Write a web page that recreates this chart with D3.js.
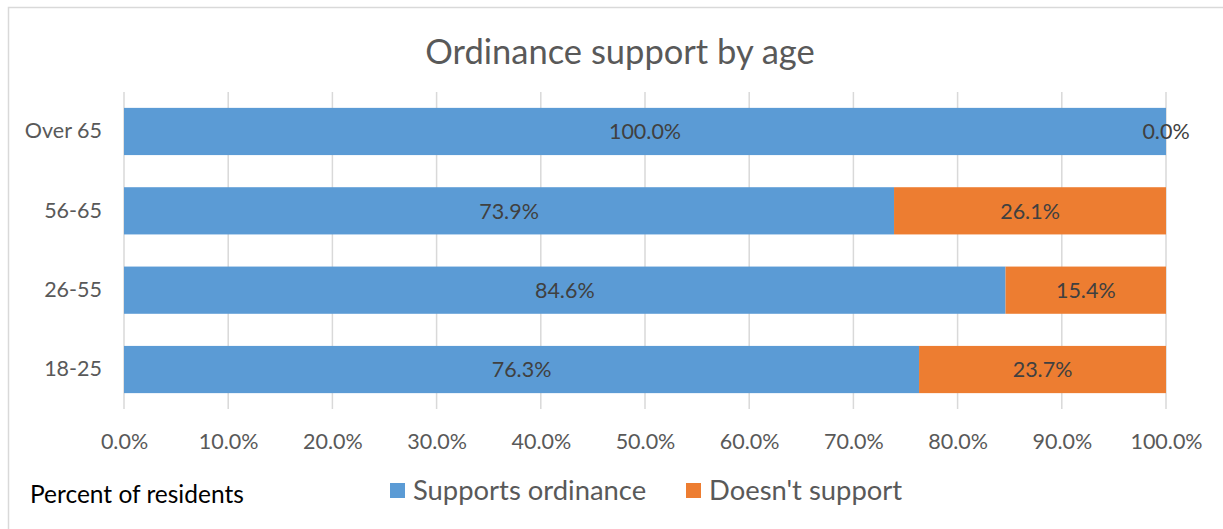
<!DOCTYPE html>
<html>
<head>
<meta charset="utf-8">
<script src="https://cdn.jsdelivr.net/npm/d3@7"></script>
<style>
  html, body { margin: 0; padding: 0; background: #fff; }
  svg { display: block; font-family: Lato, "Open Sans", sans-serif; }
</style>
</head>
<body>
<svg id="chart" width="1223" height="529"></svg>
<script>
// Age groups, top to bottom
const categories = ["Over 65", "56-65", "26-55", "18-25"];
// Share of residents per group (%)
const supports = [100.0, 73.9, 84.6, 76.3];
const doesntSupport = [0.0, 26.1, 15.4, 23.7];
const seriesNames = ["Supports ordinance", "Doesn't support"];
const seriesColors = ["#5b9bd5", "#ed7d31"];
const tickValues = [0, 10, 20, 30, 40, 50, 60, 70, 80, 90, 100];

const svg = d3.select("#chart");
const W = 1223, H = 529;
const margin = { left: 124, right: W - 1166, top: 92, bottom: H - 409 };

// chart frame
svg.append("rect")
  .attr("x", 8.5).attr("y", 7.5)
  .attr("width", W).attr("height", H)
  .attr("fill", "none").attr("stroke", "#d9d9d9").attr("stroke-width", 1.5);

svg.append("text")
  .attr("x", 620).attr("y", 64)
  .attr("text-anchor", "middle")
  .attr("font-size", 34.5).attr("fill", "#595959")
  .text("Ordinance support by age");

const x = d3.scaleLinear().domain([0, 100]).range([margin.left, W - margin.right]);
const y = d3.scaleBand().domain(categories)
  .range([margin.top, H - margin.bottom])
  .paddingInner(0.405).paddingOuter(0.2);

// vertical gridlines
svg.append("g").selectAll("line").data(tickValues).join("line")
  .attr("x1", d => x(d)).attr("x2", d => x(d))
  .attr("y1", margin.top).attr("y2", H - margin.bottom)
  .attr("stroke", "#d9d9d9").attr("stroke-width", 1.5);

const stackData = categories.map((c, i) => ({ cat: c, s0: supports[i], s1: doesntSupport[i] }));
const stack = d3.stack().keys(["s0", "s1"])(stackData);

const layers = svg.append("g").selectAll("g").data(stack).join("g")
  .attr("fill", (d, i) => seriesColors[i]);
layers.selectAll("rect").data(d => d).join("rect")
  .attr("x", d => x(d[0]))
  .attr("y", d => y(d.data.cat))
  .attr("width", d => x(d[1]) - x(d[0]))
  .attr("height", y.bandwidth());

// value labels centred in each segment
layers.selectAll("text").data(d => d).join("text")
  .attr("x", d => (x(d[0]) + x(d[1])) / 2)
  .attr("y", d => y(d.data.cat) + y.bandwidth() / 2)
  .attr("dy", "0.36em")
  .attr("text-anchor", "middle")
  .attr("font-size", 21.5).attr("fill", "#404040")
  .text((d, i, n) => {
    const k = d3.select(n[i].parentNode).datum().key;
    return (d.data[k]).toFixed(1) + "%";
  });

// category axis labels
const yAxis = svg.append("g")
  .attr("transform", `translate(${margin.left},0)`)
  .call(d3.axisLeft(y).tickSize(0).tickPadding(22));
yAxis.select(".domain").remove();
yAxis.selectAll("text").attr("font-size", 21.5).attr("fill", "#595959")
  .attr("font-family", "Lato, sans-serif");

// percent axis labels
const xAxis = svg.append("g")
  .attr("transform", `translate(0,${H - margin.bottom})`)
  .call(d3.axisBottom(x).tickValues(tickValues).tickSize(0)
    .tickFormat(d => d.toFixed(1) + "%"));
xAxis.select(".domain").remove();
xAxis.selectAll("text").attr("font-size", 21.5).attr("fill", "#595959")
  .attr("font-family", "Lato, sans-serif")
  .attr("y", 32).attr("dy", "0.36em");

// note
svg.append("text")
  .attr("x", 30).attr("y", 503)
  .attr("font-size", 24.5).attr("fill", "#000")
  .text("Percent of residents");

// legend
const legendX = [390, 686];
const lg = svg.append("g").selectAll("g").data(seriesNames).join("g")
  .attr("transform", (d, i) => `translate(${legendX[i]},483)`);
lg.append("rect").attr("width", 15).attr("height", 15)
  .attr("fill", (d, i) => seriesColors[i]);
lg.append("text").attr("x", 23).attr("y", 17)
  .attr("font-size", 27.4).attr("fill", "#595959")
  .text(d => d);
</script>
</body>
</html>
